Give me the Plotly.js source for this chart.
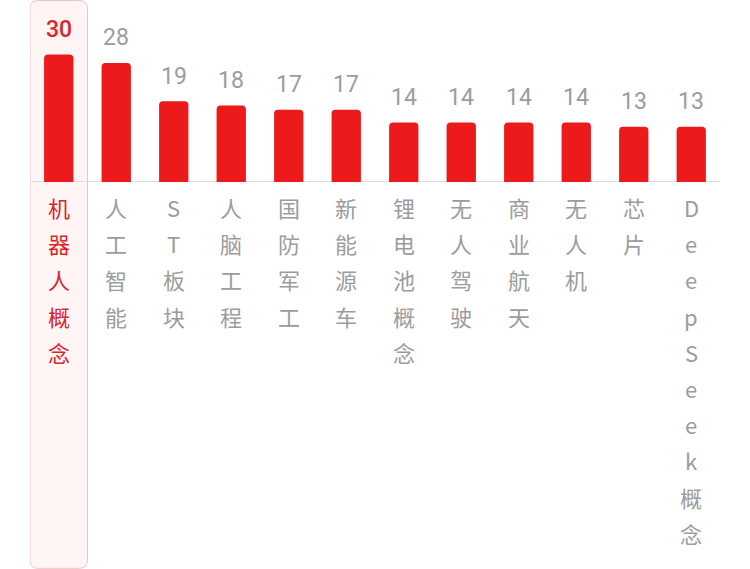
<!DOCTYPE html>
<html><head><meta charset="utf-8">
<script src="https://cdn.plot.ly/plotly-3.0.1.min.js"></script>
<style>html,body{margin:0;padding:0;background:#fff}</style>
</head><body><div id="chart" style="width:750px;height:569px"></div>
<script>
const categories = ["机器人概念","人工智能","ST板块","人脑工程","国防军工","新能源车","锂电池概念","无人驾驶","商业航天","无人机","芯片","DeepSeek概念"];
const values = [30,28,19,18,17,17,14,14,14,14,13,13];
const highlightIndex = 0;

const RED = '#ec1a1a', HL = '#d8262c', GRAY = '#9c9c9c';
const idx = categories.map((c,i)=>i);

const annotations = [];
values.forEach((v,i)=>{
  annotations.push({x:i, y:v, xref:'x', yref:'y', text:String(v), showarrow:false,
    yanchor:'middle', yshift:25,
    font:{family:'Roboto, DejaVu Sans', size:23, color: i===highlightIndex?HL:GRAY, weight: i===highlightIndex?500:400}});
});
categories.forEach((c,i)=>{
  Array.from(c).forEach((ch,k)=>{
    annotations.push({x:i, y:0, xref:'x', yref:'y', text:ch, showarrow:false,
      yanchor:'middle', yshift:-(25+36.2*k),
      font:{family:'Noto Sans CJK SC, Noto Sans, sans-serif', size:22, color: i===highlightIndex?HL:GRAY}});
  });
});

// highlight box (rounded) around the first category, in axis units
const yTop = 42.7, yBot = -90.9, rx = 0.14, ry = 1.9;
const x0 = highlightIndex-0.5, x1 = highlightIndex+0.5;
const path = `M ${x0+rx},${yTop} L ${x1-rx},${yTop} Q ${x1},${yTop} ${x1},${yTop-ry} L ${x1},${yBot+ry} Q ${x1},${yBot} ${x1-rx},${yBot} L ${x0+rx},${yBot} Q ${x0},${yBot} ${x0},${yBot+ry} L ${x0},${yTop-ry} Q ${x0},${yTop} ${x0+rx},${yTop} Z`;

Plotly.newPlot('chart', [{
  type:'bar', x: idx, y: values,
  marker:{color:RED, cornerradius:4},
  hoverinfo:'skip'
}], {
  width:750, height:569,
  margin:{l:30, r:30, t:0, b:0, pad:0},
  paper_bgcolor:'#fff', plot_bgcolor:'#fff',
  bargap:0.49,
  showlegend:false,
  xaxis:{range:[-0.5, 11.5], visible:false, fixedrange:true},
  yaxis:{range:[-91.06, 42.82], showgrid:false, showticklabels:false, ticks:'',
    zeroline:true, zerolinecolor:'#dedede', zerolinewidth:1, fixedrange:true},
  shapes:[{type:'path', path:path, xref:'x', yref:'y', layer:'below',
    fillcolor:'#fff5f5', line:{color:'#efc6c8', width:1}}],
  annotations: annotations
}, {staticPlot:true});
</script></body></html>
